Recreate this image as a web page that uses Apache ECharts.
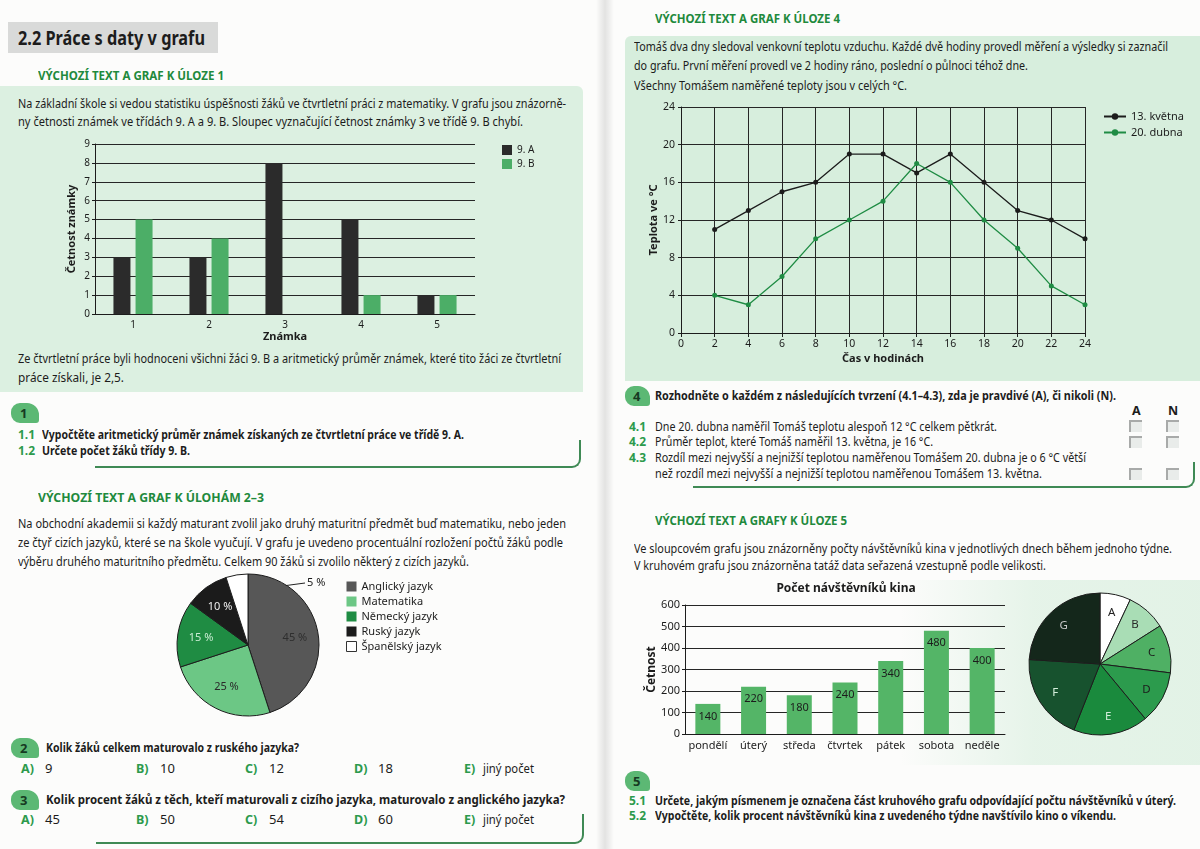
<!DOCTYPE html>
<html><head><meta charset="utf-8">
<script src="https://cdn.jsdelivr.net/npm/echarts@6/dist/echarts.min.js"></script>
<style>
html,body{margin:0;padding:0;width:1200px;height:849px;overflow:hidden;background:#fcfcfb;font-family:'Noto Sans',sans-serif;}
.bg{position:absolute;z-index:0;}
.t{position:absolute;z-index:1;white-space:nowrap;line-height:1.2;transform-origin:0 50%;color:#1c1c1c;}
.badge{position:absolute;z-index:1;background:#5cb874;border-radius:9px 12px 3px 9px;color:#163a22;font-weight:700;font-size:13px;line-height:20px;}
.br{position:absolute;z-index:1;border-right:2px solid #3f8a55;border-bottom:2px solid #3f8a55;border-bottom-right-radius:9px;}
.cb{position:absolute;z-index:1;width:13px;height:12px;background:#e9ecea;border-top:2px solid #a8aaa9;border-left:2px solid #a8aaa9;box-sizing:border-box;}
#chart{position:absolute;left:0;top:0;width:1200px;height:849px;z-index:2;}
</style></head>
<body>
<div class="bg" style="left:0;top:86px;width:583px;height:306px;background:#dcf0e1;border-top-right-radius:6px;"></div>
<div class="bg" style="left:625px;top:36px;width:575px;height:345px;background:#d7eedd;border-top-left-radius:6px;"></div>
<div class="bg" style="left:900px;top:580px;width:300px;height:185px;background:linear-gradient(90deg,rgba(220,240,225,0),rgba(220,240,225,0.7) 45%,rgba(220,240,225,0.8));"></div>
<div class="bg" style="left:8px;top:22px;width:210px;height:31px;background:#d9dad9;"></div>
<div class="bg" style="left:596px;top:0;width:18px;height:849px;background:linear-gradient(90deg,rgba(0,0,0,0),rgba(0,0,0,0.10) 50%,rgba(0,0,0,0));"></div>
<div id="chart"></div>
<script>
// ---- chart data ----
const grades = ['1', '2', '3', '4', '5'];
const class9A = [3, 3, 8, 5, 1];
const class9B = [5, 4, null, 1, 1];

const subjects = ['Anglický jazyk', 'Matematika', 'Německý jazyk', 'Ruský jazyk', 'Španělský jazyk'];
const subjectShares = [45, 25, 15, 10, 5];

const hours = [2, 4, 6, 8, 10, 12, 14, 16, 18, 20, 22, 24];
const tempMay13 = [11, 13, 15, 16, 19, 19, 17, 19, 16, 13, 12, 10];
const tempApr20 = [4, 3, 6, 10, 12, 14, 18, 16, 12, 9, 5, 3];

const days = ['pondělí', 'úterý', 'středa', 'čtvrtek', 'pátek', 'sobota', 'neděle'];
const visitors = [140, 220, 180, 240, 340, 480, 400];
const pieLetters = ['A', 'B', 'C', 'D', 'E', 'F', 'G'];

// ---- page text ----
const G = '#1f8a3d', N = '#2c9a4c', D = '#1c1c1c';
const TXT = [
 [18,38,'2.2  Práce s daty v grafu',20,700,D,187],
 [38,76,'VÝCHOZÍ TEXT A GRAF K ÚLOZE 1',12.5,700,G,186],
 [18,104,'Na základní škole si vedou statistiku úspěšnosti žáků ve čtvrtletní práci z matematiky. V grafu jsou znázorně-',13,400,D,548],
 [18,122,'ny četnosti známek ve třídách 9. A a 9. B. Sloupec vyznačující četnost známky 3 ve třídě 9. B chybí.',13,400,D,505],
 [18,359,'Ze čtvrtletní práce byli hodnoceni všichni žáci 9. B a aritmetický průměr známek, které tito žáci ze čtvrtletní',13,400,D,543],
 [18,378,'práce získali, je 2,5.',13,400,D,106],
 [18,435,'1.1',12,700,N,0],
 [42,435,'Vypočtěte aritmetický průměr známek získaných ze čtvrtletní práce ve třídě 9. A.',13,700,D,422],
 [18,451,'1.2',12,700,N,0],
 [42,451,'Určete počet žáků třídy 9. B.',13,700,D,148],
 [38,498,'VÝCHOZÍ TEXT A GRAF K ÚLOHÁM 2–3',12.5,700,G,226],
 [18,524,'Na obchodní akademii si každý maturant zvolil jako druhý maturitní předmět buď matematiku, nebo jeden',13,400,D,548],
 [18,543,'ze čtyř cizích jazyků, které se na škole vyučují. V grafu je uvedeno procentuální rozložení počtů žáků podle',13,400,D,545],
 [18,562,'výběru druhého maturitního předmětu. Celkem 90 žáků si zvolilo některý z cizích jazyků.',13,400,D,451],
 [46,748,'Kolik žáků celkem maturovalo z ruského jazyka?',13,700,D,253],
 [46,800,'Kolik procent žáků z těch, kteří maturovali z cizího jazyka, maturovalo z anglického jazyka?',13,700,D,519],
 [655,19,'VÝCHOZÍ TEXT A GRAF K ÚLOZE 4',12.5,700,G,185],
 [634,47,'Tomáš dva dny sledoval venkovní teplotu vzduchu. Každé dvě hodiny provedl měření a výsledky si zaznačil',13,400,D,534],
 [634,66,'do grafu. První měření provedl ve 2 hodiny ráno, poslední o půlnoci téhož dne.',13,400,D,394],
 [634,86,'Všechny Tomášem naměřené teploty jsou v celých °C.',13,400,D,273],
 [655,396,'Rozhodněte o každém z následujících tvrzení (4.1–4.3), zda je pravdivé (A), či nikoli (N).',13,700,D,461],
 [1132,411,'A',12.5,700,D,0],
 [1168,411,'N',12.5,700,D,0],
 [629,427,'4.1',12,700,N,0],
 [655,427,'Dne 20. dubna naměřil Tomáš teplotu alespoň 12 °C celkem pětkrát.',13,400,D,342],
 [629,442,'4.2',12,700,N,0],
 [655,442,'Průměr teplot, které Tomáš naměřil 13. května, je 16 °C.',13,400,D,278],
 [629,458,'4.3',12,700,N,0],
 [655,458,'Rozdíl mezi nejvyšší a nejnižší teplotou naměřenou Tomášem 20. dubna je o 6 °C větší',13,400,D,431],
 [655,474,'než rozdíl mezi nejvyšší a nejnižší teplotou naměřenou Tomášem 13. května.',13,400,D,387],
 [655,521,'VÝCHOZÍ TEXT A GRAFY K ÚLOZE 5',12.5,700,G,192],
 [634,549,'Ve sloupcovém grafu jsou znázorněny počty návštěvníků kina v jednotlivých dnech během jednoho týdne.',13,400,D,538],
 [634,566,'V kruhovém grafu jsou znázorněna tatáž data seřazená vzestupně podle velikosti.',13,400,D,412],
 [629,801,'5.1',12,700,N,0],
 [655,801,'Určete, jakým písmenem je označena část kruhového grafu odpovídající počtu návštěvníků v úterý.',13,700,D,521],
 [629,816,'5.2',12,700,N,0],
 [655,816,'Vypočtěte, kolik procent návštěvníků kina z uvedeného týdne navštívilo kino o víkendu.',13,700,D,461]
];
const answers2 = ['9', '10', '12', '18', 'jiný počet'];
const answers3 = ['45', '50', '54', '60', 'jiný počet'];
const ansX = [21, 136, 245, 354, 464];
['A)', 'B)', 'C)', 'D)', 'E)'].forEach((l, i) => {
  TXT.push([ansX[i], 769, l, 12.5, 700, N, 0]);
  TXT.push([ansX[i] + (i === 4 ? 19 : 24), 769, answers2[i], 13, 400, D, i === 4 ? 51 : 0]);
  TXT.push([ansX[i], 820, l, 12.5, 700, N, 0]);
  TXT.push([ansX[i] + (i === 4 ? 19 : 24), 820, answers3[i], 13, 400, D, i === 4 ? 51 : 0]);
});
TXT.forEach(t => {
  const d = document.createElement('div');
  d.className = 't';
  d.textContent = t[2];
  d.style.left = t[0] + 'px';
  d.style.top = (t[1] - t[3] * 0.62) + 'px';
  d.style.fontSize = t[3] + 'px';
  d.style.fontWeight = t[4];
  d.style.color = t[5];
  document.body.appendChild(d);
  if (t[6]) {
    const w = d.getBoundingClientRect().width;
    d.style.transform = 'scaleX(' + (t[6] / w).toFixed(4) + ')';
  }
});
function el(cls, css, txt) {
  const d = document.createElement('div');
  d.className = cls; d.style.cssText = css;
  if (txt) d.textContent = txt;
  document.body.appendChild(d);
}
el('badge', 'left:11px;top:403px;width:28px;height:20px;text-indent:9px;', '1');
el('badge', 'left:11px;top:738px;width:28px;height:20px;text-indent:9px;', '2');
el('badge', 'left:11px;top:790px;width:28px;height:20px;text-indent:9px;', '3');
el('badge', 'left:625px;top:386px;width:25px;height:20px;text-indent:8px;', '4');
el('badge', 'left:625px;top:771px;width:25px;height:20px;text-indent:8px;', '5');
el('br', 'left:95px;top:440px;width:484px;height:26px;');
el('br', 'left:96px;top:814px;width:486px;height:28px;');
el('br', 'left:693px;top:462px;width:500px;height:24px;');
[[1129,420],[1166,420],[1129,436],[1166,436],[1129,468],[1166,468]].forEach(p => el('cb', 'left:' + p[0] + 'px;top:' + p[1] + 'px;'));

// ---- charts ----
const AX = '#1c1c1c';
const axLine = { lineStyle: { color: AX, width: 1 } };
const split = { show: true, lineStyle: { color: '#262626', width: 1 } };
const langColors = ['#575757', '#6cc785', '#1f8c43', '#1b1b1b', '#ffffff'];
const langLabelColors = ['#2e2e2e', '#2a2a2a', '#c9ecd3', '#eeeeee', '#1c1c1c'];
const letterColors = ['#ffffff', '#a9ddb5', '#4fb064', '#2c9b4d', '#1a8a3d', '#17522e', '#14271b'];
const letterLabelColors = ['#222', '#2a2a2a', '#1c1c1c', '#1c1c1c', '#d4eedb', '#d4eedb', '#c8c8c8'];

const sortedIdx = visitors.map((v, i) => i).sort((a, b) => visitors[a] - visitors[b]);
const letterData = sortedIdx.map((di, k) => ({ name: pieLetters[k], value: visitors[di] }));

const chart = echarts.init(document.getElementById('chart'), null, { renderer: 'canvas' });
chart.setOption({
  animation: false,
  textStyle: { fontFamily: 'Noto Sans', color: AX },
  grid: [
    { left: 95, top: 144, width: 380, height: 170 },
    { left: 681, top: 107, width: 404, height: 226 },
    { left: 685, top: 605, width: 320, height: 129 }
  ],
  xAxis: [
    { gridIndex: 0, type: 'category', data: grades, axisLine: axLine, axisTick: { length: 4, lineStyle: { color: AX } },
      axisLabel: { fontSize: 10, color: AX, margin: 6 }, name: 'Známka', nameLocation: 'middle', nameGap: 17,
      nameTextStyle: { fontSize: 11, fontWeight: 'bold', color: AX } },
    { gridIndex: 1, type: 'value', min: 0, max: 24, interval: 2, axisLine: axLine, axisTick: { length: 4, lineStyle: { color: AX } },
      splitLine: split, axisLabel: { fontSize: 10.5, color: AX, margin: 6 }, name: 'Čas v hodinách', nameLocation: 'middle', nameGap: 20,
      nameTextStyle: { fontSize: 11, fontWeight: 'bold', color: AX } },
    { gridIndex: 2, type: 'category', data: days, axisLine: axLine, axisTick: { length: 4, lineStyle: { color: AX } },
      axisLabel: { fontSize: 11, color: AX, margin: 6, interval: 0 } }
  ],
  yAxis: [
    { gridIndex: 0, type: 'value', min: 0, max: 9, interval: 1, axisLine: { show: true, lineStyle: { color: AX } },
      axisTick: { show: true, length: 3, lineStyle: { color: AX } }, splitLine: split,
      axisLabel: { fontSize: 10, color: AX, margin: 5 }, name: 'Četnost známky', nameLocation: 'middle', nameGap: 18,
      nameTextStyle: { fontSize: 11, fontWeight: 'bold', color: AX } },
    { gridIndex: 1, type: 'value', min: 0, max: 24, interval: 4, axisLine: { show: true, lineStyle: { color: AX } },
      axisTick: { show: true, length: 3, lineStyle: { color: AX } }, splitLine: split,
      axisLabel: { fontSize: 10.5, color: AX, margin: 6 }, name: 'Teplota ve °C', nameLocation: 'middle', nameGap: 22,
      nameTextStyle: { fontSize: 11, fontWeight: 'bold', color: AX } },
    { gridIndex: 2, type: 'value', min: 0, max: 600, interval: 100, axisLine: { show: true, lineStyle: { color: AX } },
      axisTick: { show: true, length: 3, lineStyle: { color: AX } }, splitLine: split,
      axisLabel: { fontSize: 11, color: AX, margin: 5 }, name: 'Četnost', nameLocation: 'middle', nameGap: 27,
      nameTextStyle: { fontSize: 12, fontWeight: 'bold', color: AX } }
  ],
  legend: [
    { data: ['9. A', '9. B'], left: 497, top: 140, orient: 'vertical', icon: 'rect', itemWidth: 10, itemHeight: 10, itemGap: 4,
      textStyle: { fontSize: 10, color: AX }, selectedMode: false },
    { data: subjects.map((n, i) => ({ name: n, itemStyle: i === 4 ? { borderColor: '#333', borderWidth: 1 } : { borderWidth: 0 } })),
      left: 341, top: 576, orient: 'vertical', icon: 'rect', itemWidth: 10, itemHeight: 10, itemGap: 4,
      textStyle: { fontSize: 11, color: AX }, selectedMode: false },
    { data: ['13. května', '20. dubna'], left: 1098, top: 106, orient: 'vertical', itemWidth: 22, itemHeight: 8, itemGap: 5,
      textStyle: { fontSize: 11, color: AX }, selectedMode: false }
  ],
  graphic: [
    { type: 'text', x: 846, y: 589, style: { text: 'Počet návštěvníků kina', fontSize: 12, fontWeight: 'bold',
      fontFamily: 'Noto Sans', fill: AX, align: 'center', verticalAlign: 'middle' } }
  ],
  series: [
    { name: '9. A', type: 'bar', xAxisIndex: 0, yAxisIndex: 0, data: class9A, barWidth: 17, barGap: '30%',
      itemStyle: { color: '#2b2b2b' } },
    { name: '9. B', type: 'bar', xAxisIndex: 0, yAxisIndex: 0, data: class9B, barWidth: 17, barGap: '30%',
      itemStyle: { color: '#4cae67' } },
    { name: '13. května', type: 'line', xAxisIndex: 1, yAxisIndex: 1, data: hours.map((h, i) => [h, tempMay13[i]]),
      symbol: 'circle', symbolSize: 5, lineStyle: { color: '#1c1c1c', width: 1.3 }, itemStyle: { color: '#1c1c1c' } },
    { name: '20. dubna', type: 'line', xAxisIndex: 1, yAxisIndex: 1, data: hours.map((h, i) => [h, tempApr20[i]]),
      symbol: 'circle', symbolSize: 5, lineStyle: { color: '#1f8c44', width: 1.3 }, itemStyle: { color: '#1f8c44' } },
    { name: 'kino', type: 'bar', xAxisIndex: 2, yAxisIndex: 2, data: visitors, barWidth: 25,
      itemStyle: { color: '#54b567' },
      label: { show: true, position: 'insideTop', distance: 7, fontSize: 11, color: '#1c1c1c' } },
    { type: 'pie', center: [248, 645], radius: 71, startAngle: 90, clockwise: true, silent: true,
      label: { show: false }, labelLine: { show: false },
      itemStyle: { borderColor: '#1c1c1c', borderWidth: 1 },
      data: subjects.map((n, i) => ({ name: n, value: subjectShares[i], itemStyle: { color: langColors[i] } })) },
    { type: 'pie', center: [248, 645], radius: [18, 71], startAngle: 90, clockwise: true, silent: true,
      itemStyle: { color: 'transparent', borderWidth: 0 },
      label: { show: true, position: 'inside', fontSize: 11, formatter: '{c} %' },
      labelLayout: function (p) {
        if (p.dataIndex === 4) return { x: 307, y: 583, align: 'left', verticalAlign: 'middle',
          labelLinePoints: [[242, 592], [275, 587], [305, 583]] };
      },
      data: subjects.map((n, i) => ({ name: n, value: subjectShares[i],
        label: i === 4 ? { position: 'outside', color: langLabelColors[i] } : { color: langLabelColors[i] },
        labelLine: i === 4 ? { show: true, lineStyle: { color: '#222', width: 1 } } : { show: false } })) },
    { type: 'pie', center: [1100, 664], radius: 71, startAngle: 90, clockwise: true, silent: true,
      label: { show: false }, labelLine: { show: false },
      itemStyle: { borderColor: '#1c1c1c', borderWidth: 1 },
      data: letterData.map((d, i) => ({ name: d.name, value: d.value, itemStyle: { color: letterColors[i] } })) },
    { type: 'pie', center: [1100, 664], radius: [29, 71], startAngle: 90, clockwise: true, silent: true,
      itemStyle: { color: 'transparent', borderWidth: 0 }, labelLine: { show: false },
      label: { show: true, position: 'inside', fontSize: 11.5, formatter: '{b}' },
      data: letterData.map((d, i) => ({ name: d.name, value: d.value, label: { color: letterLabelColors[i] } })) }
  ]
});
</script>
</body></html>
